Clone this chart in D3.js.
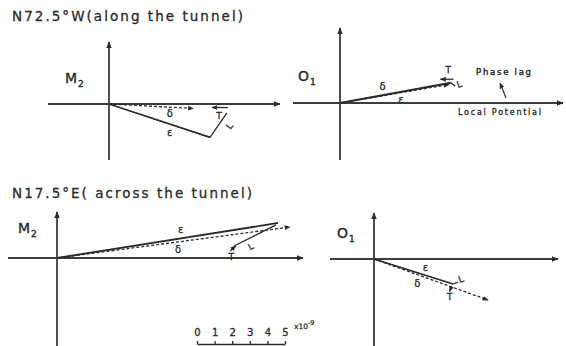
<!DOCTYPE html>
<html><head><meta charset="utf-8">
<script src="https://cdn.jsdelivr.net/npm/d3@7"></script>
<style>body{margin:0;background:#fff}svg{display:block}</style>
</head><body>
<script>
// Tidal strain phasors; components in units of 1e-9 strain
const scaleTicks = [0, 1, 2, 3, 4, 5];
const headings = ["N72.5°W(along the tunnel)", "N17.5°E( across the tunnel)"];
const tideNames = ["M", "O", "M", "O"];
const tideSubs = ["2", "1", "2", "1"];
const vectorNames = ["ε", "δ", "T", "L"];
// each row: [x0, y0, x1, y1] for ε, δ, T, L
const m2Along  = [[0, 0, 5.74, -1.90], [0, 0, 4.80, -0.25], [6.75, -0.20, 5.85, -0.20], [5.74, -1.90, 6.70, -0.50]];
const o1Along  = [[0, 0, 6.30, 1.15], [0, 0, 6.20, 1.05], [6.45, 1.35, 5.70, 1.35], [6.30, 1.15, 6.55, 0.95]];
const m2Across = [[0, 0, 12.56, 1.99], [0, 0, 13.24, 1.76], [9.85, 0.40, 10.15, 0.70], [12.45, 1.88, 10.06, 0.68]];
const o1Across = [[0, 0, 4.49, -1.42], [0, 0, 6.48, -2.33], [4.40, -1.55, 4.30, -1.85], [4.49, -1.42, 4.78, -1.32]];

const W = 566, H = 346;
const ink = "#2a2a2a";
const svg = d3.select("body").append("svg").attr("width", W).attr("height", H)
  .style("font-family", "'DejaVu Sans', sans-serif");

// shared length scale (10^-9 -> px)
const sx = d3.scaleLinear().domain([0, 5]).range([0, 88]);
const sy = d3.scaleLinear().domain([0, 5]).range([0, -88]);

const defs = svg.append("defs");
function marker(id, size) {
  defs.append("marker").attr("id", id).attr("viewBox", "0 0 10 10")
    .attr("refX", 9).attr("refY", 5).attr("markerWidth", size).attr("markerHeight", size)
    .attr("markerUnits", "userSpaceOnUse").attr("orient", "auto")
    .append("path").attr("d", "M0,1L10,5L0,9Z").attr("fill", ink);
}
marker("axHead", 7);
marker("vecHead", 6);

// text with a slightly heavier inked look
function inked(sel, w) {
  return sel.attr("fill", ink).attr("stroke", ink).attr("stroke-width", w || 0.35);
}

// panel layout
const panels = [
  { data: m2Along, ox: 109, oy: 104, hx: [-61, 171], vy: [-62, 56], lx: 65, ly: 83,
    labels: [{ t: .6, dx: 0, dy: 8 }, { t: .72, dx: 0, dy: 6 }, { t: .55, dx: 0, dy: 8 }, { t: .5, dx: 11, dy: 1, r: -55 }] },
  { data: o1Along, ox: 340, oy: 103, hx: [-47, 223], vy: [-75, 57], lx: 298, ly: 81,
    labels: [{ t: .55, dx: 0, dy: 8 }, { t: .39, dx: 0, dy: -9 }, { t: .4, dx: 0, dy: -9 }, { t: 1, dx: 4, dy: -2, r: -20 }] },
  { data: m2Across, ox: 57, oy: 258, hx: [-49, 246], vy: [-46, 90], lx: 18, ly: 233,
    labels: [{ t: .56, dx: 0, dy: -9 }, { t: .52, dx: 0, dy: 8 }, { t: 0, dx: 1, dy: 6 }, { t: .6, dx: 0, dy: 9, r: -30 }] },
  { data: o1Across, ox: 374, oy: 259, hx: [-44, 184], vy: [-46, 90], lx: 337, ly: 238,
    labels: [{ t: .65, dx: 0, dy: -8 }, { t: .38, dx: 0, dy: 9 }, { t: 1, dx: 0, dy: 5 }, { t: 1, dx: 3, dy: -3, r: -20 }] }
];

const vecStyle = [
  { w: 1.8, dash: null, head: false },
  { w: 1.3, dash: "3,2", head: true },
  { w: 1.3, dash: null, head: true },
  { w: 1.3, dash: null, head: false }
];

panels.forEach((p, i) => {
  const g = svg.append("g").attr("transform", `translate(${p.ox},${p.oy})`);
  // axes
  g.append("line").attr("x1", p.hx[0]).attr("x2", p.hx[1]).attr("y1", 0).attr("y2", 0)
    .attr("stroke", "#3c3c3c").attr("stroke-width", 1.8).attr("marker-end", "url(#axHead)");
  g.append("line").attr("x1", 0).attr("x2", 0).attr("y1", p.vy[1]).attr("y2", p.vy[0])
    .attr("stroke", "#3c3c3c").attr("stroke-width", 1.8).attr("marker-end", "url(#axHead)");
  // vectors
  g.selectAll("line.vec").data(p.data).join("line").attr("class", "vec")
    .attr("x1", d => sx(d[0])).attr("y1", d => sy(d[1]))
    .attr("x2", d => sx(d[2])).attr("y2", d => sy(d[3]))
    .attr("stroke", ink)
    .attr("stroke-width", (d, j) => vecStyle[j].w)
    .attr("stroke-dasharray", (d, j) => vecStyle[j].dash)
    .attr("marker-end", (d, j) => vecStyle[j].head ? "url(#vecHead)" : null);
  // vector labels
  inked(g.selectAll("text.vl").data(p.data).join("text").attr("class", "vl")
    .attr("transform", (d, j) => {
      const L = p.labels[j];
      const x = sx(d[0] + (d[2] - d[0]) * L.t) + L.dx;
      const y = sy(d[1] + (d[3] - d[1]) * L.t) + L.dy;
      return `translate(${x},${y}) rotate(${L.r || 0})`;
    })
    .attr("text-anchor", "middle").attr("dominant-baseline", "central")
    .attr("font-size", (d, j) => j < 2 ? 10 : 9)
    .text((d, j) => vectorNames[j]), 0.3);
  // tide name
  const t = inked(svg.append("text").attr("x", p.lx).attr("y", p.ly).attr("font-size", 14), 0.4);
  t.append("tspan").text(tideNames[i]);
  t.append("tspan").attr("font-size", 9).attr("dx", 1).attr("dy", 4).text(tideSubs[i]);
});

// headings
inked(svg.append("text").attr("x", 12).attr("y", 21).attr("font-size", 13.5)
  .attr("textLength", 231).attr("lengthAdjust", "spacing").text(headings[0]), 0.3);
inked(svg.append("text").attr("x", 12).attr("y", 198).attr("font-size", 13.5)
  .attr("textLength", 240).attr("lengthAdjust", "spacing").text(headings[1]), 0.3);

// phase lag annotation
inked(svg.append("text").attr("x", 476).attr("y", 75).attr("font-size", 8.5)
  .attr("textLength", 55).text("Phase lag"), 0.4);
svg.append("line").attr("x1", 506).attr("y1", 98).attr("x2", 500).attr("y2", 83)
  .attr("stroke", ink).attr("stroke-width", 1.2).attr("marker-end", "url(#vecHead)");
inked(svg.append("text").attr("x", 458).attr("y", 115).attr("font-size", 8)
  .attr("textLength", 83).text("Local Potential"), 0.3);

// length scale bar
const bar = svg.append("g").attr("transform", "translate(197,344)");
bar.call(d3.axisTop(sx).tickValues(scaleTicks).tickFormat(d3.format("d"))
  .tickSize(3).tickSizeOuter(0).tickPadding(5));
bar.selectAll("path,line").attr("stroke", ink).attr("stroke-width", 1.3);
inked(bar.selectAll("text").attr("font-size", 10)
  .attr("font-family", "'DejaVu Sans', sans-serif"), 0.3);
const ex = inked(svg.append("text").attr("x", 294).attr("y", 329).attr("font-size", 7.5), 0.25);
ex.append("tspan").text("x10");
ex.append("tspan").attr("dy", -4).attr("font-size", 6.5).text("-9");
</script>
</body></html>
